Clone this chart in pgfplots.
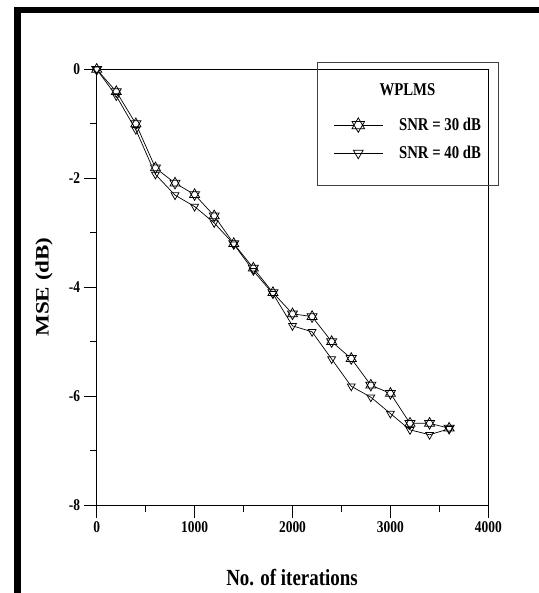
\documentclass[border=0pt]{standalone}
\usepackage{pgfplots}
\pgfplotsset{compat=1.18}
\usepackage{fontspec}
\setmainfont{Liberation Serif}
\usepackage{graphicx}
\newcommand\vs[1]{\scalebox{1}[1.22]{#1}}

\pgfdeclareplotmark{hexagram}{%
  \pgfpathmoveto{\pgfqpointpolar{90}{\pgfplotmarksize}}%
  \pgfpathlineto{\pgfqpointpolar{210}{\pgfplotmarksize}}%
  \pgfpathlineto{\pgfqpointpolar{330}{\pgfplotmarksize}}%
  \pgfpathclose
  \pgfpathmoveto{\pgfqpointpolar{270}{\pgfplotmarksize}}%
  \pgfpathlineto{\pgfqpointpolar{30}{\pgfplotmarksize}}%
  \pgfpathlineto{\pgfqpointpolar{150}{\pgfplotmarksize}}%
  \pgfpathclose
  \pgfusepathqfillstroke
}

\pgfplotstableread{
x     y
0     0
200   -0.41
400   -1.00
600   -1.81
800   -2.09
1000  -2.30
1200  -2.69
1400  -3.20
1600  -3.65
1800  -4.10
2000  -4.49
2200  -4.54
2400  -5.00
2600  -5.31
2800  -5.80
3000  -5.95
3200  -6.50
3400  -6.50
3600  -6.59
}\snrthirty

\pgfplotstableread{
x     y
0     0
200   -0.49
400   -1.11
600   -1.93
800   -2.31
1000  -2.52
1200  -2.82
1400  -3.21
1600  -3.70
1800  -4.12
2000  -4.71
2200  -4.82
2400  -5.32
2600  -5.82
2800  -6.02
3000  -6.32
3200  -6.62
3400  -6.71
3600  -6.60
}\snrforty

\begin{document}
\begin{tikzpicture}[x=1bp,y=1bp]
\useasboundingbox (0,0) rectangle (539,-593);
\fill (14,-7) rectangle (20.5,-593);
\fill (14,-7) rectangle (539,-13.5);
\begin{axis}[
  at={(96.7bp,-505bp)}, anchor=south west,
  scale only axis, width=391.6bp, height=435.7bp,
  xmin=0, xmax=4000, ymin=-8, ymax=0,
  xtick={0,1000,2000,3000,4000}, minor xtick={500,1500,2500,3500},
  xticklabels={\vs{0},\vs{1000},\vs{2000},\vs{3000},\vs{4000}},
  ytick={-8,-6,-4,-2,0}, minor ytick={-7,-5,-3,-1},
  yticklabels={\vs{-8},\vs{-6},\vs{-4},\vs{-2},\vs{0}},
  tick pos=left, tick align=outside,
  major tick length=13bp, minor tick length=6.5bp,
  axis line style={line width=0.8bp},
  every tick/.style={black, line width=0.8bp},
  tick label style={font=\bfseries\fontsize{13.5}{15}\selectfont},
  xlabel={\vs{No. of iterations}},
  ylabel={\scalebox{1.22}[1]{MSE (dB)}},
  label style={font=\bfseries\fontsize{19}{21}\selectfont},
  xlabel style={at={(axis description cs:0.4987,-0.1675)}, anchor=center},
  ylabel style={at={(axis description cs:-0.1346,0.5003)}, anchor=center},
  legend style={draw=none, fill=none, at={(rel axis cs:0.604,0.893)}, anchor=north west,
    font=\bfseries\fontsize{14.8}{16}\selectfont, row sep=10bp, inner sep=0pt,
    nodes={inner xsep=8bp, inner ysep=2bp}},
  legend cell align=left,
  legend image code/.code={\draw[mark repeat=2,mark phase=2,#1,every mark/.append style={scale=1.25}] plot coordinates {(0bp,0bp) (24.5bp,0bp) (49bp,0bp)};},
  clip=false,
]
\addplot[black, line width=0.7bp, mark=hexagram, mark size=5.8bp, mark options={fill=white, line width=0.75bp}] table[x=x,y=y] {\snrthirty};
\addlegendentry{\hspace{8bp}\vs{SNR = 30 dB}}
\addplot[black, line width=0.7bp, mark=triangle, mark size=4.5bp, mark options={rotate=180, fill=white, line width=0.75bp}] table[x=x,y=y] {\snrforty};
\addlegendentry{\hspace{8bp}\vs{SNR = 40 dB}}
\end{axis}
\draw[line width=0.8bp, black!75] (317,-62) rectangle (498,-185);
\node[font=\bfseries\fontsize{14.8}{16}\selectfont] at (407.5,-90) {\vs{WPLMS}};
\end{tikzpicture}
\end{document}
